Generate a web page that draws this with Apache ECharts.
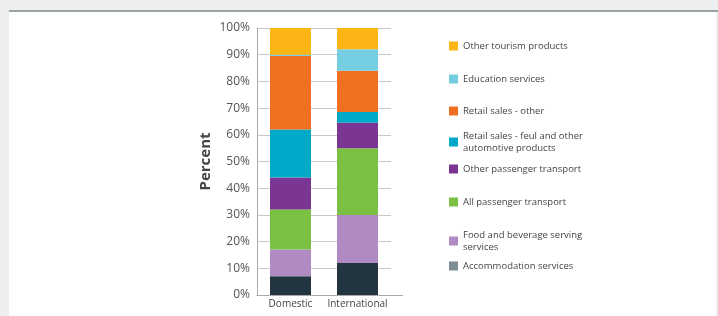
<!DOCTYPE html>
<html><head><meta charset="utf-8">
<script src="https://cdn.jsdelivr.net/npm/echarts@6/dist/echarts.min.js"></script>
<style>html,body{margin:0;padding:0;background:#eceef0}#c{width:718px;height:316px}</style>
</head><body><div id="c"></div>
<script>
var categories = ['Domestic', 'International'];
var seriesNames = ['Accommodation services', 'Food and beverage serving services', 'All passenger transport', 'Other passenger transport', 'Retail sales - feul and other automotive products', 'Retail sales - other', 'Education services', 'Other tourism products'];
var legendLabels = ['Accommodation services', 'Food and beverage serving\nservices', 'All passenger transport', 'Other passenger transport', 'Retail sales - feul and other\nautomotive products', 'Retail sales - other', 'Education services', 'Other tourism products'];
var accommodation = [7, 12];
var foodBeverage = [10, 18];
var allPassenger = [15, 25];
var otherPassenger = [12, 9.5];
var retailFuel = [18, 4];
var retailOther = [27.5, 15.5];
var education = [0.5, 8];
var otherTourism = [10, 8];
var yTicks = [0, 10, 20, 30, 40, 50, 60, 70, 80, 90, 100];

var values = [accommodation, foodBeverage, allPassenger, otherPassenger, retailFuel, retailOther, education, otherTourism];
var colors = ['#233540', '#b08bc3', '#7ac143', '#7b3592', '#00a9c8', '#f07022', '#74cde0', '#fbb514'];
var legendIconColors = ['#7f8d95', '#b08bc3', '#7ac143', '#7b3592', '#00a9c8', '#f07022', '#74cde0', '#fbb514'];
var legendTops = [255, 224, 191, 158, 125, 100, 68, 35];

var chart = echarts.init(document.getElementById('c'));
var font = '"Open Sans", "Noto Sans", sans-serif';
var legends = seriesNames.map(function (n, i) {
  return {
    left: 444, top: legendTops[i], orient: 'vertical',
    itemWidth: 9, itemHeight: 9, itemGap: 0, icon: 'rect',
    data: [{name: n, itemStyle: {color: legendIconColors[i]}}],
    formatter: function () { return legendLabels[i]; },
    textStyle: {fontFamily: font, fontSize: 9.5, color: '#444', lineHeight: 12, padding: [0, 0, 0, 0]},
    selectedMode: false
  };
});
chart.setOption({
  animation: false,
  backgroundColor: 'transparent',
  graphic: [
    {type: 'rect', shape: {x: 9, y: 12, width: 707, height: 304}, style: {fill: '#ffffff'}, z: -10},
    {type: 'rect', shape: {x: 9, y: 10, width: 709, height: 2}, style: {fill: '#9ca3a7'}, z: -9},
    {type: 'line', shape: {x1: 391, y1: 295.5, x2: 403, y2: 295.5}, style: {stroke: '#aaaaaa', lineWidth: 1}}
  ],
  grid: {left: 257, right: 327, top: 28, bottom: 21},
  legend: legends,
  xAxis: {
    type: 'category', data: categories,
    axisTick: {show: false},
    axisLine: {lineStyle: {color: '#aaaaaa'}},
    axisLabel: {fontFamily: font, fontSize: 10, color: '#444', margin: 4, interval: 0}
  },
  yAxis: {
    type: 'value', min: yTicks[0], max: yTicks[yTicks.length - 1], interval: 10,
    name: 'Percent', nameLocation: 'middle', nameGap: 44,
    nameTextStyle: {fontFamily: font, fontSize: 15, fontWeight: 'bold', color: '#444'},
    axisLine: {show: true, lineStyle: {color: '#aaaaaa'}},
    axisTick: {show: false},
    splitLine: {lineStyle: {color: '#c8c8c8'}},
    axisLabel: {fontFamily: font, fontSize: 12, color: '#555', margin: 7, formatter: '{value}%'}
  },
  series: seriesNames.map(function (n, i) {
    return {
      name: n, type: 'bar', stack: 'total', data: values[i], barWidth: 41,
      itemStyle: {color: colors[i]}
    };
  })
});
</script></body></html>
